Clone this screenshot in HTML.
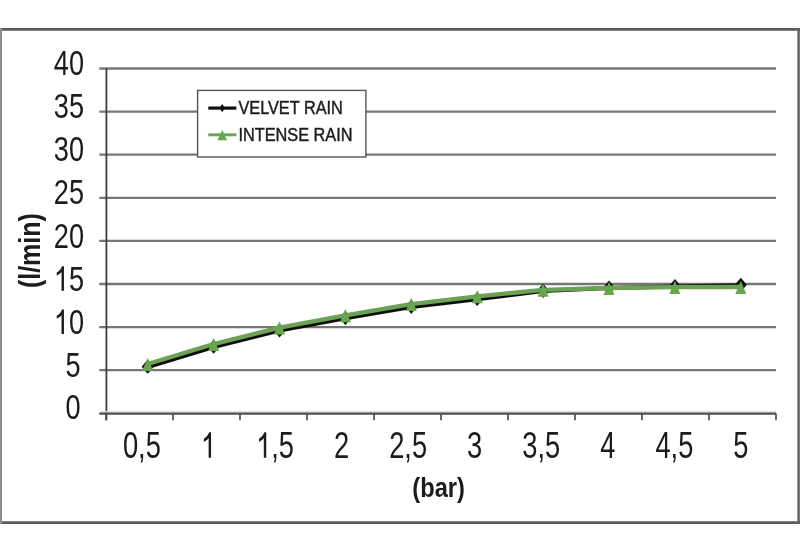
<!DOCTYPE html>
<html><head><meta charset="utf-8"><style>
html,body{margin:0;padding:0;background:#fff;width:800px;height:533px;overflow:hidden}
svg{display:block}
text{font-family:"Liberation Sans", sans-serif;fill:#1a1a1a}
</style></head><body>
<svg width="800" height="533" viewBox="0 0 800 533">
<defs><filter id="b" x="0" y="0" width="800" height="533" filterUnits="userSpaceOnUse"><feGaussianBlur stdDeviation="0.4"/></filter></defs>
<rect width="800" height="533" fill="#fff"/>
<g filter="url(#b)">
<line x1="0" y1="29.4" x2="799.8" y2="29.4" stroke="#5c5c5c" stroke-width="2.6"/>
<line x1="0" y1="522.6" x2="799.8" y2="522.6" stroke="#5c5c5c" stroke-width="2.6"/>
<line x1="1" y1="28.1" x2="1" y2="523.9" stroke="#8c8c8c" stroke-width="2"/>
<line x1="798.6" y1="28.1" x2="798.6" y2="523.9" stroke="#5c5c5c" stroke-width="2.4"/>
<line x1="99.3" y1="370.20" x2="776" y2="370.20" stroke="#767676" stroke-width="2.3"/>
<line x1="99.3" y1="327.10" x2="776" y2="327.10" stroke="#767676" stroke-width="2.3"/>
<line x1="99.3" y1="284.00" x2="776" y2="284.00" stroke="#767676" stroke-width="2.3"/>
<line x1="99.3" y1="240.90" x2="776" y2="240.90" stroke="#767676" stroke-width="2.3"/>
<line x1="99.3" y1="197.80" x2="776" y2="197.80" stroke="#767676" stroke-width="2.3"/>
<line x1="99.3" y1="154.70" x2="776" y2="154.70" stroke="#767676" stroke-width="2.3"/>
<line x1="99.3" y1="111.60" x2="776" y2="111.60" stroke="#767676" stroke-width="2.3"/>
<line x1="99.3" y1="68.50" x2="776" y2="68.50" stroke="#767676" stroke-width="2.3"/>
<line x1="106.4" y1="68.50" x2="106.4" y2="420.3" stroke="#3c3c3c" stroke-width="1.8"/>
<line x1="99.3" y1="411.7" x2="776" y2="411.7" stroke="#e0e0e0" stroke-width="1.4"/>
<line x1="99.3" y1="413.6" x2="776" y2="413.6" stroke="#505050" stroke-width="2.2"/>
<line x1="106" y1="413.6" x2="106" y2="420.3" stroke="#505050" stroke-width="1.7"/>
<line x1="173" y1="413.6" x2="173" y2="420.3" stroke="#505050" stroke-width="1.7"/>
<line x1="240" y1="413.6" x2="240" y2="420.3" stroke="#505050" stroke-width="1.7"/>
<line x1="307" y1="413.6" x2="307" y2="420.3" stroke="#505050" stroke-width="1.7"/>
<line x1="374" y1="413.6" x2="374" y2="420.3" stroke="#505050" stroke-width="1.7"/>
<line x1="441" y1="413.6" x2="441" y2="420.3" stroke="#505050" stroke-width="1.7"/>
<line x1="508" y1="413.6" x2="508" y2="420.3" stroke="#505050" stroke-width="1.7"/>
<line x1="575" y1="413.6" x2="575" y2="420.3" stroke="#505050" stroke-width="1.7"/>
<line x1="642" y1="413.6" x2="642" y2="420.3" stroke="#505050" stroke-width="1.7"/>
<line x1="709" y1="413.6" x2="709" y2="420.3" stroke="#505050" stroke-width="1.7"/>
<line x1="776" y1="413.6" x2="776" y2="420.3" stroke="#505050" stroke-width="1.7"/>
<text transform="translate(65.51,419.20) scale(0.78,1)" font-size="34.8">0</text>
<text transform="translate(65.51,376.70) scale(0.78,1)" font-size="34.8">5</text>
<path d="M63.93,333.90 L61.54,333.90 L61.54,315.04 L60.68,316.14 L59.29,317.25 L57.95,318.10 L56.77,318.69 L56.77,315.72 L58.68,314.44 L60.11,312.91 L61.13,311.39 L62.09,309.52 L63.93,309.52Z" fill="#1a1a1a"/>
<text transform="translate(68.91,333.90) scale(0.78,1)" font-size="34.8">0</text>
<path d="M63.93,290.70 L61.54,290.70 L61.54,271.84 L60.68,272.94 L59.29,274.05 L57.95,274.90 L56.77,275.49 L56.77,272.52 L58.68,271.24 L60.11,269.71 L61.13,268.19 L62.09,266.32 L63.93,266.32Z" fill="#1a1a1a"/>
<text transform="translate(68.91,290.70) scale(0.78,1)" font-size="34.8">5</text>
<text transform="translate(53.82,247.55) scale(0.78,1)" font-size="34.8">20</text>
<text transform="translate(53.82,204.20) scale(0.78,1)" font-size="34.8">25</text>
<text transform="translate(53.82,160.70) scale(0.78,1)" font-size="34.8">30</text>
<text transform="translate(53.82,117.60) scale(0.78,1)" font-size="34.8">35</text>
<text transform="translate(53.82,75.00) scale(0.78,1)" font-size="34.8">40</text>
<text transform="translate(122.93,457.70) scale(0.75,1)" font-size="36.4">0,5</text>
<path d="M211.04,457.70 L208.64,457.70 L208.64,437.97 L207.78,439.13 L206.38,440.28 L205.03,441.17 L203.84,441.79 L203.84,438.68 L205.76,437.35 L207.20,435.75 L208.23,434.15 L209.19,432.20 L211.04,432.20Z" fill="#1a1a1a"/>
<path d="M266.22,457.70 L263.82,457.70 L263.82,437.97 L262.95,439.13 L261.55,440.28 L260.21,441.17 L259.02,441.79 L259.02,438.68 L260.94,437.35 L262.38,435.75 L263.40,434.15 L264.36,432.20 L266.22,432.20Z" fill="#1a1a1a"/>
<text transform="translate(271.23,457.70) scale(0.75,1)" font-size="36.4">,5</text>
<text transform="translate(333.99,457.70) scale(0.75,1)" font-size="36.4">2</text>
<text transform="translate(389.17,457.70) scale(0.75,1)" font-size="36.4">2,5</text>
<text transform="translate(467.11,457.70) scale(0.75,1)" font-size="36.4">3</text>
<text transform="translate(522.29,457.70) scale(0.75,1)" font-size="36.4">3,5</text>
<text transform="translate(600.23,457.70) scale(0.75,1)" font-size="36.4">4</text>
<text transform="translate(655.41,457.70) scale(0.75,1)" font-size="36.4">4,5</text>
<text transform="translate(733.35,457.70) scale(0.75,1)" font-size="36.4">5</text>
<text transform="translate(438.6,497.4) scale(0.857,1)" text-anchor="middle" font-size="27.6" font-weight="bold">(bar)</text>
<text transform="translate(39.8,250.6) rotate(-90) scale(0.84,1)" text-anchor="middle" font-size="29.8" font-weight="bold">(l/min)</text>
<polyline points="147.70,366.97 213.60,346.97 279.50,330.59 345.40,318.26 411.30,307.06 477.20,299.21 543.10,291.02 609.00,288.09 674.90,286.54 740.80,285.16" fill="none" stroke="#111" stroke-width="4" stroke-linejoin="round"/>
<path d="M147.70,359.47 L153.70,366.67 L147.70,373.87 L141.70,366.67Z" fill="#111"/>
<path d="M213.60,339.47 L219.60,346.67 L213.60,353.87 L207.60,346.67Z" fill="#111"/>
<path d="M279.50,323.09 L285.50,330.29 L279.50,337.49 L273.50,330.29Z" fill="#111"/>
<path d="M345.40,310.76 L351.40,317.96 L345.40,325.16 L339.40,317.96Z" fill="#111"/>
<path d="M411.30,299.56 L417.30,306.76 L411.30,313.96 L405.30,306.76Z" fill="#111"/>
<path d="M477.20,291.71 L483.20,298.91 L477.20,306.11 L471.20,298.91Z" fill="#111"/>
<path d="M543.10,283.52 L549.10,290.72 L543.10,297.92 L537.10,290.72Z" fill="#111"/>
<path d="M609.00,280.59 L615.00,287.79 L609.00,294.99 L603.00,287.79Z" fill="#111"/>
<path d="M674.90,279.04 L680.90,286.24 L674.90,293.44 L668.90,286.24Z" fill="#111"/>
<path d="M740.80,277.66 L746.80,284.86 L740.80,292.06 L734.80,284.86Z" fill="#111"/>
<polyline points="147.70,364.04 213.60,344.04 279.50,327.66 345.40,315.34 411.30,304.13 477.20,296.29 543.10,289.91 609.00,288.01 674.90,287.15 740.80,286.98" fill="none" stroke="#6ca257" stroke-width="4.3" stroke-linejoin="round"/>
<path d="M147.70,357.74 L153.20,370.94 L142.20,370.94Z" fill="#68a64e"/>
<path d="M213.60,337.74 L219.10,350.94 L208.10,350.94Z" fill="#68a64e"/>
<path d="M279.50,321.36 L285.00,334.56 L274.00,334.56Z" fill="#68a64e"/>
<path d="M345.40,309.04 L350.90,322.24 L339.90,322.24Z" fill="#68a64e"/>
<path d="M411.30,297.83 L416.80,311.03 L405.80,311.03Z" fill="#68a64e"/>
<path d="M477.20,289.99 L482.70,303.19 L471.70,303.19Z" fill="#68a64e"/>
<path d="M543.10,283.61 L548.60,296.81 L537.60,296.81Z" fill="#68a64e"/>
<path d="M609.00,281.71 L614.50,294.91 L603.50,294.91Z" fill="#68a64e"/>
<path d="M674.90,280.85 L680.40,294.05 L669.40,294.05Z" fill="#68a64e"/>
<path d="M740.80,280.68 L746.30,293.88 L735.30,293.88Z" fill="#68a64e"/>
<rect x="197.6" y="90.4" width="168.3" height="66.6" fill="#fff" stroke="#555" stroke-width="1.4"/>
<line x1="208.3" y1="108.1" x2="236.4" y2="108.1" stroke="#111" stroke-width="3.2"/>
<path d="M222.2,103.9 L225,108.1 L222.2,112.2 L219.4,108.1Z" fill="#111"/>
<line x1="208.3" y1="134.8" x2="236.4" y2="134.8" stroke="#6aa651" stroke-width="3"/>
<path d="M222.3,130 L227.2,140.3 L217.4,140.3Z" fill="#67a84a"/>
<text transform="translate(238.4,113.8) scale(0.85,1)" font-size="19.2" fill="#222" stroke="#222" stroke-width="0.45">VELVET RAIN</text>
<text transform="translate(238.4,140.6) scale(0.85,1)" font-size="19.2" fill="#222" stroke="#222" stroke-width="0.45">INTENSE RAIN</text>
</g>
</svg>
</body></html>
